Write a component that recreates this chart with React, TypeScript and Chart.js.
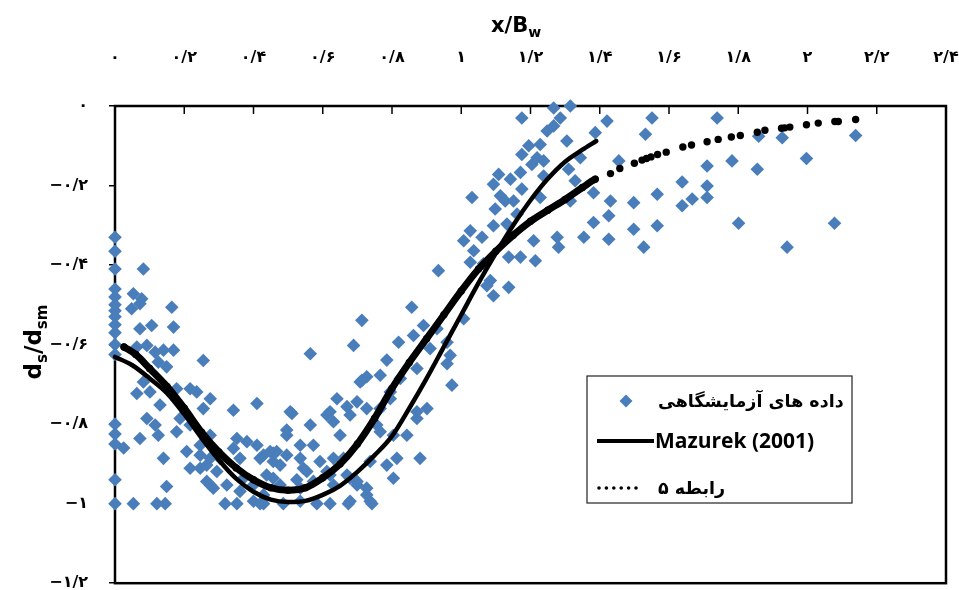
import React, { useEffect, useRef } from "react";
import { Chart, registerables } from "chart.js";

Chart.register(...registerables);

// ---------- tick labels ----------
const xTickLabels = ["۰", "۰/۲", "۰/۴", "۰/۶", "۰/۸", "۱", "۱/۲", "۱/۴", "۱/۶", "۱/۸", "۲", "۲/۲", "۲/۴"];
const yTickLabels = ["۰", "−۰/۲", "−۰/۴", "−۰/۶", "−۰/۸", "−۱", "−۱/۲"];

// ---------- series names ----------
const seriesExp = "داده های آزمایشگاهی";
const seriesMazurek = "Mazurek (2001)";
const seriesRel5 = "رابطه ۵";

// ---------- laboratory data (x/Bw, ds/dsm) ----------
const expX = [
  0, 0, 0, 0, 0, 0, 0, 0, 0, 0,
  0, 0, 0, 0, 0, 0, 0, 0.025,
  0.082, 0.053, 0.077, 0.048, 0.072, 0.164, 0.072, 0.106, 0.169, 0.063,
  0.092, 0.116, 0.14, 0.169, 0.125, 0.149, 0.255, 0.082, 0.063, 0.101,
  0.178, 0.217, 0.236, 0.13, 0.275, 0.41, 0.342, 0.092, 0.116, 0.188,
  0.255, 0.125, 0.178, 0.217, 0.072, 0.275, 0.352, 0.14, 0.207, 0.246,
  0.342, 0.217, 0.265, 0.303, 0.429, 0.457, 0.149, 0.265, 0.284, 0.323,
  0.361, 0.053, 0.121, 0.145, 0.318, 0.352, 0.4, 0.429, 0.457, 0.246,
  0.275, 0.361, 0.381, 0.41, 0.448, 0.294, 0.371, 0.4, 0.429, 0.275,
  0.246, 0.419, 0.486, 0.535, 0.583, 0.621, 0.674, 0.742, 0.679, 0.737,
  0.564, 0.713, 0.689, 0.819, 0.511, 0.641, 0.67, 0.699, 0.785, 0.766,
  0.727, 0.713, 0.612, 0.631, 0.564, 0.496, 0.573, 0.65, 0.727, 0.766,
  0.795, 0.804, 0.766, 0.785, 0.804, 0.699, 0.727, 0.438, 0.419, 0.457,
  0.496, 0.535, 0.592, 0.554, 0.612, 0.631, 0.66, 0.477, 0.525, 0.631,
  0.67, 0.496, 0.708, 0.506, 0.621, 0.679, 0.756, 0.843, 0.872, 0.901,
  0.881, 0.814, 0.737, 0.535, 0.467, 0.477, 0.544, 0.621, 0.679, 0.699,
  0.535, 0.573, 0.727,
  0.934, 0.857, 0.891, 0.862, 0.93, 0.959, 0.968, 0.959, 0.91, 0.872,
  0.824, 0.973, 0.795, 0.872, 1.074, 1.026, 1.093, 1.007,
  1.315, 1.267, 1.286, 1.267, 1.175, 1.248, 1.387, 1.421, 1.305, 1.195,
  1.228, 1.175, 1.219, 1.204, 1.238, 1.344, 1.31, 1.108, 1.142, 1.171,
  1.093, 1.175, 1.238, 1.329, 1.382, 1.031, 1.113, 1.127, 1.151, 1.098,
  1.228, 1.315, 1.161, 1.093, 1.132, 1.026, 1.007, 1.06, 1.036, 1.209,
  1.277, 1.281, 1.354, 1.382, 1.137, 1.171, 1.214, 1.137, 1.084, 1.064,
  1.551, 1.532, 1.455, 1.431, 1.498, 1.566, 1.426, 1.498, 1.566, 1.426,
  1.527, 1.739, 1.859, 1.927, 2.139, 1.71, 1.782, 1.855, 1.997, 1.638,
  1.71, 1.71, 1.667, 1.638, 1.801, 2.078, 1.941,
];
const expY = [
  -0.33, -0.365, -0.41, -0.46, -0.48, -0.5, -0.515, -0.53, -0.55, -0.57,
  -0.6, -0.625, -0.8, -0.825, -0.85, -0.94, -1, -0.86,
  -0.41, -0.472, -0.485, -0.51, -0.497, -0.506, -0.56, -0.552, -0.556, -0.606,
  -0.602, -0.619, -0.614, -0.614, -0.644, -0.656, -0.64, -0.694, -0.723, -0.719,
  -0.711, -0.711, -0.719, -0.752, -0.736, -0.748, -0.765, -0.786, -0.802, -0.786,
  -0.761, -0.828, -0.819, -0.802, -0.836, -0.828, -0.836, -0.886, -0.869, -0.853,
  -0.861, -0.911, -0.903, -0.886, -0.878, -0.894, -0.957, -0.944, -0.961, -0.953,
  -0.969, -1, -1, -1, -1, -1, -0.994, -1, -0.936, -0.878,
  -0.886, -0.886, -0.844, -0.853, -0.869, -0.919, -0.936, -0.953, -0.978, -0.953,
  -0.911, -1, -1, -0.994, -1, -1, -1, -1, -0.994, -0.994,
  -0.623, -0.539, -0.602, -0.594, -0.773, -0.736, -0.756, -0.744, -0.639, -0.677,
  -0.681, -0.69, -0.777, -0.794, -0.802, -0.828, -0.853, -0.828, -0.761, -0.761,
  -0.736, -0.828, -0.819, -0.903, -0.936, -0.944, -0.978, -0.928, -0.886, -0.873,
  -0.878, -0.886, -0.894, -0.919, -0.919, -0.886, -0.886, -0.953, -0.94, -0.953,
  -0.928, -0.815, -0.694, -0.769, -0.769, -0.777, -0.802, -0.828, -0.769, -0.761,
  -0.886, -0.886, -0.894, -0.853, -0.869, -0.903, -0.911, -0.928, -0.936, -0.953,
  -0.961, -0.944, -0.961,
  -0.414, -0.506, -0.552, -0.577, -0.56, -0.594, -0.627, -0.648, -0.61, -0.66,
  -0.685, -0.702, -0.719, -0.786, -0.452, -0.393, -0.477, -0.535,
  0, -0.005, -0.03, -0.05, -0.03, -0.063, -0.067, -0.038, -0.088, -0.1,
  -0.097, -0.122, -0.13, -0.147, -0.138, -0.13, -0.159, -0.172, -0.184, -0.167,
  -0.197, -0.209, -0.176, -0.188, -0.218, -0.23, -0.226, -0.239, -0.239, -0.259,
  -0.23, -0.239, -0.272, -0.301, -0.297, -0.314, -0.339, -0.33, -0.364, -0.339,
  -0.33, -0.355, -0.33, -0.293, -0.38, -0.38, -0.389, -0.456, -0.439, -0.397,
  -0.03, -0.071, -0.138, -0.239, -0.243, -0.222, -0.276, -0.31, -0.301, -0.335,
  -0.355, -0.03, -0.076, -0.08, -0.074, -0.151, -0.138, -0.159, -0.132, -0.191,
  -0.201, -0.23, -0.234, -0.251, -0.295, -0.295, -0.355,
];

// ---------- Mazurek (2001) curve ----------
const mazurekX = [
  0, 0.05, 0.1, 0.15, 0.2, 0.25, 0.3, 0.35, 0.4, 0.45,
  0.5, 0.55, 0.6, 0.65, 0.7, 0.75, 0.8, 0.85, 0.9, 0.95,
  1.0, 1.05, 1.1, 1.15, 1.2, 1.25, 1.3, 1.35, 1.39,
];
const mazurekY = [
  -0.631, -0.652, -0.685, -0.722, -0.775, -0.835, -0.89, -0.937, -0.97, -0.99,
  -0.996, -0.993, -0.978, -0.955, -0.92, -0.878, -0.83, -0.76, -0.685, -0.605,
  -0.525, -0.445, -0.37, -0.3, -0.237, -0.183, -0.14, -0.11, -0.088,
];

// ---------- relation 5 (dotted) ----------
const relation5X = [
  0.026, 0.06, 0.1, 0.15, 0.2, 0.25, 0.3, 0.35, 0.4, 0.45,
  0.5, 0.55, 0.6, 0.65, 0.7, 0.75, 0.8, 0.85, 0.9, 0.95,
  1.0, 1.05, 1.1, 1.15, 1.2, 1.25, 1.3, 1.35, 1.387,
  1.431, 1.458, 1.5, 1.522, 1.535, 1.548, 1.567, 1.592, 1.64, 1.665,
  1.71, 1.742, 1.78, 1.806, 1.855, 1.877, 1.925, 1.934, 1.949, 1.997,
  2.031, 2.079, 2.089, 2.139,
];
const relation5Y = [
  -0.606, -0.625, -0.66, -0.705, -0.76, -0.82, -0.87, -0.91, -0.94, -0.96,
  -0.966, -0.96, -0.935, -0.9, -0.85, -0.785, -0.71, -0.645, -0.585, -0.525,
  -0.465, -0.41, -0.365, -0.325, -0.29, -0.262, -0.235, -0.205, -0.184,
  -0.17, -0.157, -0.144, -0.136, -0.132, -0.128, -0.122, -0.116, -0.103, -0.098,
  -0.09, -0.084, -0.078, -0.074, -0.066, -0.061, -0.056, -0.055, -0.053, -0.047,
  -0.043, -0.039, -0.039, -0.034,
];
// the first points of relation 5 are so close that they merge into a solid run
const relation5DenseCount = 29;

const BLUE = "#4A7EBB";
const PERSIAN_FONT = "'DejaVu Sans'";

const decorPlugin = {
  id: "decor",
  beforeDatasetsDraw(chart: any) {
    const { ctx, chartArea, scales } = chart;
    const { left, top, right, bottom } = chartArea;
    ctx.save();
    ctx.strokeStyle = "#000";
    ctx.lineWidth = 2.5;
    ctx.strokeRect(left, top, right - left, bottom - top);
    ctx.lineWidth = 1.5;
    scales.x.ticks.forEach((t: any) => {
      const px = scales.x.getPixelForValue(t.value);
      ctx.beginPath();
      ctx.moveTo(px, top);
      ctx.lineTo(px, top + 8);
      ctx.stroke();
    });
    ctx.restore();
  },
  afterDraw(chart: any) {
    const { ctx } = chart;
    ctx.save();
    ctx.fillStyle = "#000";
    ctx.textBaseline = "alphabetic";
    ctx.textAlign = "left";

    // x axis title: x/B_w
    const mainX = `bold 21px ${PERSIAN_FONT}`;
    const subX = `bold 14px ${PERSIAN_FONT}`;
    ctx.font = mainX;
    const w1 = ctx.measureText("x/B").width;
    ctx.font = subX;
    const w2 = ctx.measureText("w").width;
    const sx = 516 - (w1 + w2) / 2;
    ctx.font = mainX;
    ctx.fillText("x/B", sx, 32);
    ctx.font = subX;
    ctx.fillText("w", sx + w1, 37);

    // y axis title: d_s/d_sm
    const parts: [string, boolean][] = [["d", false], ["s", true], ["/", false], ["d", false], ["sm", true]];
    const mainY = `bold 23px ${PERSIAN_FONT}`;
    const subY = `bold 15px ${PERSIAN_FONT}`;
    let total = 0;
    const widths = parts.map(([t, sub]) => {
      ctx.font = sub ? subY : mainY;
      const w = ctx.measureText(t).width;
      total += w;
      return w;
    });
    ctx.translate(41, 342);
    ctx.rotate(-Math.PI / 2);
    let cx = -total / 2;
    parts.forEach(([t, sub], i) => {
      ctx.font = sub ? subY : mainY;
      ctx.fillText(t, cx, sub ? 6 : 0);
      cx += widths[i];
    });
    ctx.restore();

    // legend
    ctx.save();
    const L = 587, T = 376, R = 852, B = 503;
    ctx.fillStyle = "#fff";
    ctx.fillRect(L, T, R - L, B - T);
    ctx.strokeStyle = "#222";
    ctx.lineWidth = 1.2;
    ctx.strokeRect(L, T, R - L, B - T);
    // row 1: diamond
    ctx.fillStyle = BLUE;
    ctx.beginPath();
    ctx.moveTo(626 - 6.5, 401);
    ctx.lineTo(626, 401 - 6.5);
    ctx.lineTo(626 + 6.5, 401);
    ctx.lineTo(626, 401 + 6.5);
    ctx.closePath();
    ctx.fill();
    ctx.fillStyle = "#000";
    ctx.textBaseline = "middle";
    ctx.textAlign = "left";
    ctx.font = `bold 17.5px ${PERSIAN_FONT}`;
    ctx.fillText(seriesExp, 658, 402);
    // row 2: solid line
    ctx.strokeStyle = "#000";
    ctx.lineWidth = 4;
    ctx.beginPath();
    ctx.moveTo(597, 441);
    ctx.lineTo(654, 441);
    ctx.stroke();
    ctx.font = `bold 21px 'Open Sans'`;
    ctx.fillText(seriesMazurek, 655, 442);
    // row 3: dots
    for (let i = 0; i < 6; i++) {
      ctx.beginPath();
      ctx.arc(599 + i * 7.4, 488, 1.8, 0, Math.PI * 2);
      ctx.fill();
    }
    ctx.font = `bold 17.5px ${PERSIAN_FONT}`;
    ctx.fillText(seriesRel5, 658, 489);
    ctx.restore();
  },
};

export default function App() {
  const ref = useRef<HTMLCanvasElement>(null);
  useEffect(() => {
    const canvas = ref.current;
    if (!canvas) return;
    const tickFont = { family: PERSIAN_FONT, size: 16, weight: "bold" as const };
    const chart = new Chart(canvas, {
      type: "scatter",
      data: {
        datasets: [
          {
            label: seriesRel5,
            data: relation5X.map((x, i) => ({ x, y: relation5Y[i] })),
            showLine: true,
            borderColor: "#000",
            borderWidth: 7,
            borderCapStyle: "round",
            borderJoinStyle: "round",
            cubicInterpolationMode: "monotone",
            pointRadius: 3.7,
            pointBackgroundColor: "#000",
            pointBorderWidth: 0,
            pointHoverRadius: 3.7,
            segment: {
              borderColor: (c: any) => (c.p1DataIndex >= relation5DenseCount ? "rgba(0,0,0,0)" : undefined),
            },
            order: 1,
            clip: false,
          } as any,
          {
            label: seriesMazurek,
            data: mazurekX.map((x, i) => ({ x, y: mazurekY[i] })),
            showLine: true,
            borderColor: "#000",
            borderWidth: 4.5,
            borderCapStyle: "round",
            cubicInterpolationMode: "monotone",
            pointRadius: 0,
            pointHoverRadius: 0,
            order: 2,
            clip: false,
          } as any,
          {
            label: seriesExp,
            data: expX.map((x, i) => ({ x, y: expY[i] })),
            pointStyle: "rectRot",
            pointRadius: 6.8,
            pointHoverRadius: 6.8,
            backgroundColor: BLUE,
            borderWidth: 0,
            order: 3,
            clip: false,
          } as any,
        ],
      },
      options: {
        animation: false,
        responsive: true,
        maintainAspectRatio: false,
        layout: { padding: { left: 0, top: 0, right: 13, bottom: 6 } },
        plugins: {
          legend: { display: false },
          tooltip: { enabled: false },
          title: { display: false },
        },
        scales: {
          x: {
            type: "linear",
            position: "top",
            min: 0,
            max: 2.4,
            ticks: {
              stepSize: 0.2,
              autoSkip: false,
              maxRotation: 0,
              padding: 39,
              color: "#000",
              font: tickFont,
              callback: (v: any) => xTickLabels[Math.round(Number(v) / 0.2)] ?? "",
            },
            grid: { display: false, drawTicks: false },
            border: { display: false },
            afterFit: (s: any) => {
              s.height = 106;
              s.paddingLeft = 0;
              s.paddingRight = 0;
            },
          },
          y: {
            type: "linear",
            min: -1.2,
            max: 0,
            ticks: {
              stepSize: 0.2,
              autoSkip: false,
              padding: 21,
              color: "#000",
              font: tickFont,
              callback: (v: any) => yTickLabels[Math.round(-Number(v) / 0.2)] ?? "",
            },
            grid: { drawOnChartArea: false, drawTicks: true, tickLength: 6, color: "#000", lineWidth: 1.5 },
            border: { display: false },
            afterFit: (s: any) => {
              s.width = 115;
              s.paddingTop = 0;
              s.paddingBottom = 0;
            },
          },
        },
      },
      plugins: [decorPlugin],
    });
    return () => chart.destroy();
  }, []);

  return (
    <div style={{ position: "fixed", left: 0, top: 0, width: "100vw", height: "100vh", background: "#fff" }}>
      <canvas ref={ref} />
    </div>
  );
}
